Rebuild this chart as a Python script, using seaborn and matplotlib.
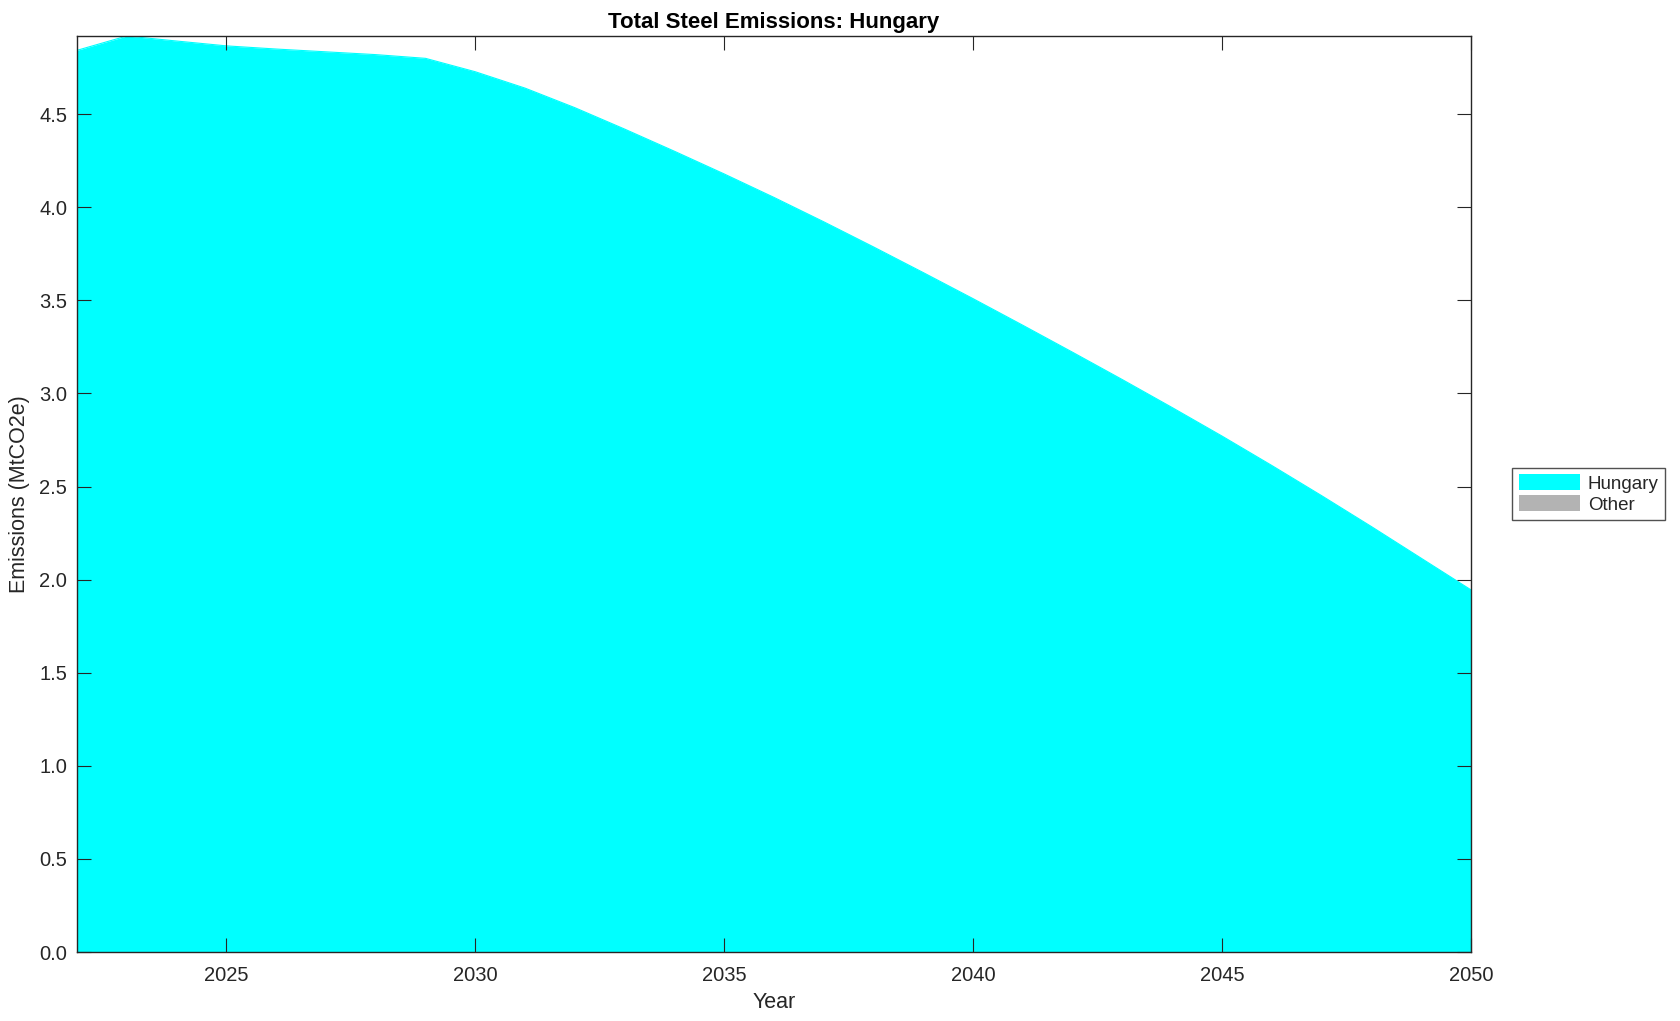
import matplotlib
matplotlib.use("Agg")
import matplotlib.pyplot as plt
import seaborn as sns
import numpy as np
import pandas as pd

years = [2022, 2023, 2024, 2025, 2026, 2027, 2028, 2029, 2030, 2031, 2032,
         2033, 2034, 2035, 2036, 2037, 2038, 2039, 2040, 2041, 2042, 2043,
         2044, 2045, 2046, 2047, 2048, 2049, 2050]
hungary = [4.843, 4.920, 4.893, 4.867, 4.850, 4.835, 4.820, 4.800, 4.728, 4.640, 4.535,
           4.420, 4.301, 4.179, 4.053, 3.922, 3.787, 3.649, 3.509, 3.366, 3.221, 3.074,
           2.924, 2.771, 2.613, 2.451, 2.285, 2.115, 1.945]
other = [0.0] * len(years)
series_names = ["Hungary", "Other"]
series_colors = ["#00ffff", "#b3b3b3"]
xticks = [2025, 2030, 2035, 2040, 2045, 2050]
yticks = [0.0, 0.5, 1.0, 1.5, 2.0, 2.5, 3.0, 3.5, 4.0, 4.5]

df = pd.DataFrame({"Year": years, "Hungary": hungary, "Other": other})

sns.set_theme(style="ticks")
plt.rcParams['font.family'] = ['Liberation Sans', 'DejaVu Sans']

fig = plt.figure(figsize=(16.8, 10.21), dpi=100)
ax = fig.add_axes([77/1680, 1-952/1021, (1471-77)/1680, (952-36)/1021])

ax.stackplot(df["Year"], df["Hungary"], df["Other"], colors=series_colors,
             labels=series_names, linewidth=0)
# edge line via seaborn (same colour as fill)
sns.lineplot(data=df, x="Year", y="Hungary", ax=ax, color=series_colors[0],
             linewidth=0.8, legend=False)

ax.set_xlim(2022, 2050)
ax.set_ylim(0, max(np.array(hungary) + np.array(other)))
ax.set_xticks(xticks)
ax.set_xticklabels([str(t) for t in xticks])
ax.set_yticks(yticks)
ax.set_yticklabels([f"{t:.1f}" for t in yticks])

ax.tick_params(direction="in", length=10, width=0.8, top=True, right=True,
               labelsize=14.5, colors="#262626")
ax.tick_params(axis="x", pad=10)
ax.tick_params(axis="y", pad=7)
for s in ax.spines.values():
    s.set_visible(True)
    s.set_color("#262626")
    s.set_linewidth(1.0)
ax.set_axisbelow(False)

ax.set_title("Total Steel Emissions: Hungary", fontsize=16, fontweight="bold",
             color="black", pad=6)
ax.set_xlabel("Year", fontsize=15.5, color="#262626", labelpad=5)
ax.set_ylabel("Emissions (MtCO2e)", fontsize=15.5, color="#262626", labelpad=7)

handles, labels = ax.get_legend_handles_labels()
leg = ax.legend(handles[:2], labels[:2], loc="center left",
                bbox_to_anchor=(1512/1680, 1-494/1021), bbox_transform=fig.transFigure,
                fontsize=13.5, frameon=True, fancybox=False, edgecolor="#262626",
                handlelength=3.3, handleheight=0.9, handletextpad=0.4,
                borderpad=0.35, labelspacing=0.15, borderaxespad=0)
leg.get_frame().set_linewidth(1.0)

fig.savefig("out.png", dpi=100)
